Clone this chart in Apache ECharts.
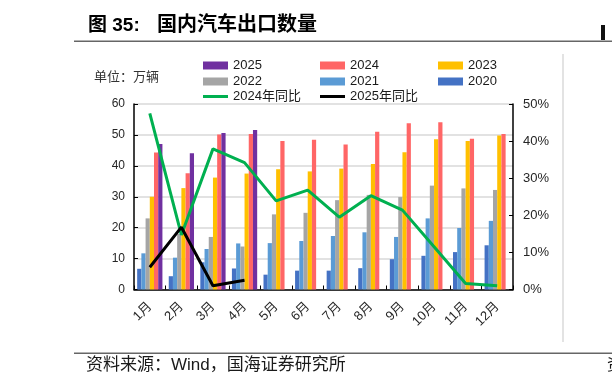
<!DOCTYPE html>
<html>
<head>
<meta charset="utf-8">
<script src="https://cdn.jsdelivr.net/npm/echarts@6/dist/echarts.min.js"></script>
<style>
html,body{margin:0;padding:0;background:#fff;}
#c{width:612px;height:390px;}
</style>
</head>
<body>
<div id="c"></div>
<script>
var months = ['1月','2月','3月','4月','5月','6月','7月','8月','9月','10月','11月','12月'];
var v2020 = [6.7, 4.3, 8.8, 6.8, 4.8, 6.1, 6.1, 6.9, 9.8, 10.9, 12.1, 14.3];
var v2021 = [11.7, 10.3, 13.1, 14.9, 15.0, 15.7, 17.3, 18.5, 17.0, 23.0, 19.9, 22.2];
var v2022 = [23.0, 18.0, 17.0, 13.9, 24.3, 24.8, 28.9, 30.6, 29.9, 33.6, 32.7, 32.2];
var v2023 = [30.0, 32.8, 36.2, 37.5, 38.9, 38.2, 39.1, 40.6, 44.4, 48.6, 48.0, 49.8];
var v2024 = [44.3, 37.6, 50.1, 50.3, 48.0, 48.4, 46.9, 51.0, 53.8, 54.1, 48.8, 50.3];
var v2025 = [47.1, 44.1, 50.6, 51.6, null, null, null, null, null, null, null, null];
var yoy2024 = [47.5, 14.7, 37.9, 34.2, 23.9, 26.8, 19.5, 25.3, 21.4, 11.5, 1.6, 1.0];
var yoy2025 = [6.0, 16.8, 1.0, 2.5, null, null, null, null, null, null, null, null];
var leftTicks = [0, 10, 20, 30, 40, 50, 60];
var rightTicks = [0, 10, 20, 30, 40, 50];

var FONT = "'Liberation Sans', 'Noto Sans CJK SC', sans-serif";
var chart = echarts.init(document.getElementById('c'), null, {renderer: 'canvas'});

function barSeries(name, data, color) {
  return {name: name, type: 'bar', data: data, yAxisIndex: 0,
    barGap: '0%', barCategoryGap: '20%', itemStyle: {color: color}, z: 2};
}
function lineSeries(name, data, color) {
  return {name: name, type: 'line', data: data, yAxisIndex: 1,
    symbol: 'none', showSymbol: false, connectNulls: false,
    lineStyle: {color: color, width: 3}, itemStyle: {color: color}, z: 5};
}
function lg(name, left, top, isLine) {
  return {data: [name], left: left, top: top, padding: 0,
    itemWidth: 25, itemHeight: isLine ? 3 : 8, itemGap: 0,
    icon: 'rect',
    textStyle: {fontFamily: FONT, fontSize: 13, color: '#1a1a1a'}};
}

var option = {
  animation: false,
  backgroundColor: '#fff',
  grid: {left: 134, right: 99, top: 104, bottom: 100.5, containLabel: false},
  legend: [
    lg('2025', 203, 59, false), lg('2024', 320, 59, false), lg('2023', 438, 59, false),
    lg('2022', 203, 75, false), lg('2021', 320, 75, false), lg('2020', 438, 75, false),
    lg('2024年同比', 203, 90, true), lg('2025年同比', 320, 90, true)
  ],
  xAxis: {
    type: 'category', data: months,
    axisLine: {lineStyle: {color: '#000', width: 1.5}},
    axisTick: {show: true, inside: true, length: 4, alignWithLabel: false, lineStyle: {color: '#000'}},
    axisLabel: {rotate: 45, margin: 15, fontFamily: FONT, fontSize: 13, color: '#262626', interval: 0},
    splitLine: {show: false}
  },
  yAxis: [
    {type: 'value', min: leftTicks[0], max: leftTicks[leftTicks.length - 1], interval: 10,
      axisLine: {show: true, lineStyle: {color: '#000', width: 1.5}},
      axisTick: {show: true, inside: true, length: 4, lineStyle: {color: '#000'}},
      axisLabel: {margin: 9, fontFamily: FONT, fontSize: 12, color: '#262626'},
      splitLine: {show: true, lineStyle: {color: '#d9d9d9', width: 1.5}}},
    {type: 'value', min: rightTicks[0], max: rightTicks[rightTicks.length - 1], interval: 10,
      axisLine: {show: true, lineStyle: {color: '#000', width: 1.5}},
      axisTick: {show: true, inside: true, length: 4, lineStyle: {color: '#000'}},
      axisLabel: {margin: 10, fontFamily: FONT, fontSize: 13, color: '#262626', formatter: '{value}%'},
      splitLine: {show: false}}
  ],
  series: [
    barSeries('2020', v2020, '#4472C4'),
    barSeries('2021', v2021, '#5B9BD5'),
    barSeries('2022', v2022, '#A5A5A5'),
    barSeries('2023', v2023, '#FFC000'),
    barSeries('2024', v2024, '#FF6666'),
    barSeries('2025', v2025, '#7030A0'),
    lineSeries('2024年同比', yoy2024, '#00B050'),
    lineSeries('2025年同比', yoy2025, '#000000')
  ],
  graphic: [
    {type: 'text', left: 88, top: 16, style: {text: '图 35:', font: 'bold 19px ' + FONT, fill: '#000'}},
    {type: 'text', left: 157, top: 15, style: {text: '国内汽车出口数量', font: 'bold 20px ' + FONT, fill: '#000'}},
    {type: 'rect', shape: {x: 601, y: 25, width: 4, height: 15}, style: {fill: '#111'}},
    {type: 'rect', shape: {x: 74, y: 40.5, width: 538, height: 1.5}, style: {fill: '#666'}},
    {type: 'rect', shape: {x: 74, y: 352.5, width: 538, height: 1.5}, style: {fill: '#666'}},
    {type: 'rect', shape: {x: 562.5, y: 54, width: 1, height: 288}, style: {fill: '#c8c8c8'}},
    {type: 'text', left: 94, top: 71, style: {text: '单位：万辆', font: '13px ' + FONT, fill: '#333'}},
    {type: 'text', left: 86, top: 357, style: {text: '资料来源：Wind，国海证券研究所', font: '17px ' + FONT, fill: '#1a1a1a'}},
    {type: 'text', left: 607, top: 358, style: {text: '资料来源', font: '16px ' + FONT, fill: '#1a1a1a'}}
  ]
};
chart.setOption(option);
</script>
</body>
</html>
